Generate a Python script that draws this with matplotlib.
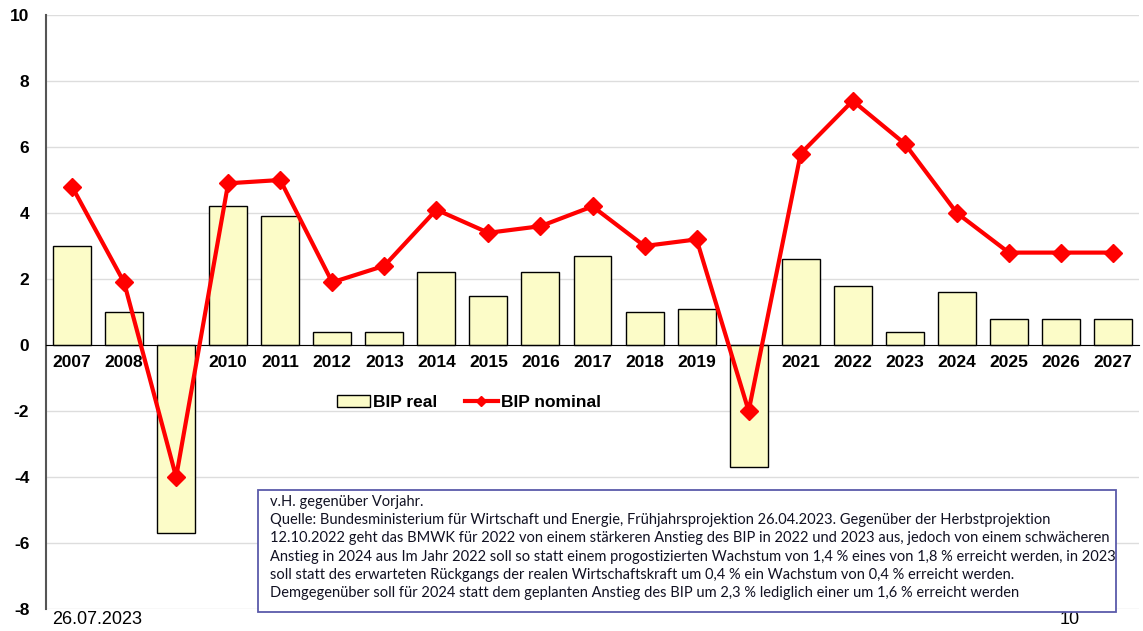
import matplotlib
matplotlib.use('Agg')
import matplotlib.pyplot as plt
from matplotlib.patches import Rectangle

years = [str(y) for y in range(2007, 2028)]
bip_real = [3.0, 1.0, -5.7, 4.2, 3.9, 0.4, 0.4, 2.2, 1.5, 2.2, 2.7,
            1.0, 1.1, -3.7, 2.6, 1.8, 0.4, 1.6, 0.8, 0.8, 0.8]
bip_nominal = [4.8, 1.9, -4.0, 4.9, 5.0, 1.9, 2.4, 4.1, 3.4, 3.6, 4.2,
               3.0, 3.2, -2.0, 5.8, 7.4, 6.1, 4.0, 2.8, 2.8, 2.8]
yticks = [-8, -6, -4, -2, 0, 2, 4, 6, 8, 10]

note = ("v.H. gegenüber Vorjahr.\n"
        "Quelle: Bundesministerium für Wirtschaft und Energie, Frühjahrsprojektion 26.04.2023. Gegenüber der Herbstprojektion\n"
        "12.10.2022 geht das BMWK für 2022 von einem stärkeren Anstieg des BIP in 2022 und 2023 aus, jedoch von einem schwächeren\n"
        "Anstieg in 2024 aus Im Jahr 2022 soll so statt einem progostizierten Wachstum von 1,4 % eines von 1,8 % erreicht werden, in 2023\n"
        "soll statt des erwarteten Rückgangs der realen Wirtschaftskraft um 0,4 % ein Wachstum von 0,4 % erreicht werden.\n"
        "Demgegenüber soll für 2024 statt dem geplanten Anstieg des BIP um 2,3 % lediglich einer um 1,6 % erreicht werden")

plt.rcParams['font.family'] = ['Liberation Sans', 'DejaVu Sans']

W, H = 1143, 631
fig = plt.figure(figsize=(W / 100, H / 100), dpi=100)
ax = fig.add_axes([46 / W, 1 - 609 / H, (1139 - 46) / W, (609 - 15) / H])

x = list(range(len(years)))
bars = ax.bar(x, bip_real, width=0.73, color='#FCFCC8', edgecolor='black', linewidth=1,
              label='BIP real', zorder=2)
line, = ax.plot(x, bip_nominal, color='#FF0000', lw=3, marker='D', markersize=9,
                label='BIP nominal', zorder=3)

ax.spines['bottom'].set_position(('data', 0))
ax.spines['bottom'].set_color('black')
ax.spines['top'].set_visible(False)
ax.spines['right'].set_visible(False)
ax.spines['left'].set_color('#555555')
ax.spines['left'].set_linewidth(1.5)

ax.set_xlim(-0.5, len(years) - 0.5)
ax.set_ylim(-8, 10)
ax.set_yticks(yticks)
ax.set_yticklabels([str(v) for v in yticks])
ax.set_xticks(x)
ax.set_xticklabels(years)
ax.tick_params(axis='both', length=0, labelsize=12.5)
ax.tick_params(axis='y', pad=12)
ax.tick_params(axis='x', pad=7)
for lab in ax.get_xticklabels() + ax.get_yticklabels():
    lab.set_fontweight('bold')
ax.yaxis.grid(True, color='#DDDDDD', lw=1)
ax.set_axisbelow(True)

ax.legend([bars, line], ['BIP real', 'BIP nominal'], loc='center',
          bbox_to_anchor=(0.387, 0.348), ncol=2, frameon=False,
          prop={'weight': 'bold', 'size': 12.5}, handlelength=1.9, columnspacing=1.6,
          handletextpad=0.15, markerscale=0.6)

fig.patches.append(Rectangle((258 / W, 1 - 612 / H), (1116 - 258) / W, (612 - 490) / H,
                             transform=fig.transFigure, facecolor='white',
                             edgecolor='#5A5AAA', lw=1.3, zorder=5))
fig.text(270 / W, 1 - 495 / H, note, ha='left', va='top', fontsize=10.5,
         family=['Lato', 'DejaVu Sans'], linespacing=1.38, color='#111122', zorder=6)

fig.text(52 / W, 1 - 620 / H, '26.07.2023', ha='left', va='center', fontsize=13)
fig.text(1070 / W, 1 - 620 / H, '10', ha='center', va='center', fontsize=13)

fig.savefig('out.png', dpi=100)
